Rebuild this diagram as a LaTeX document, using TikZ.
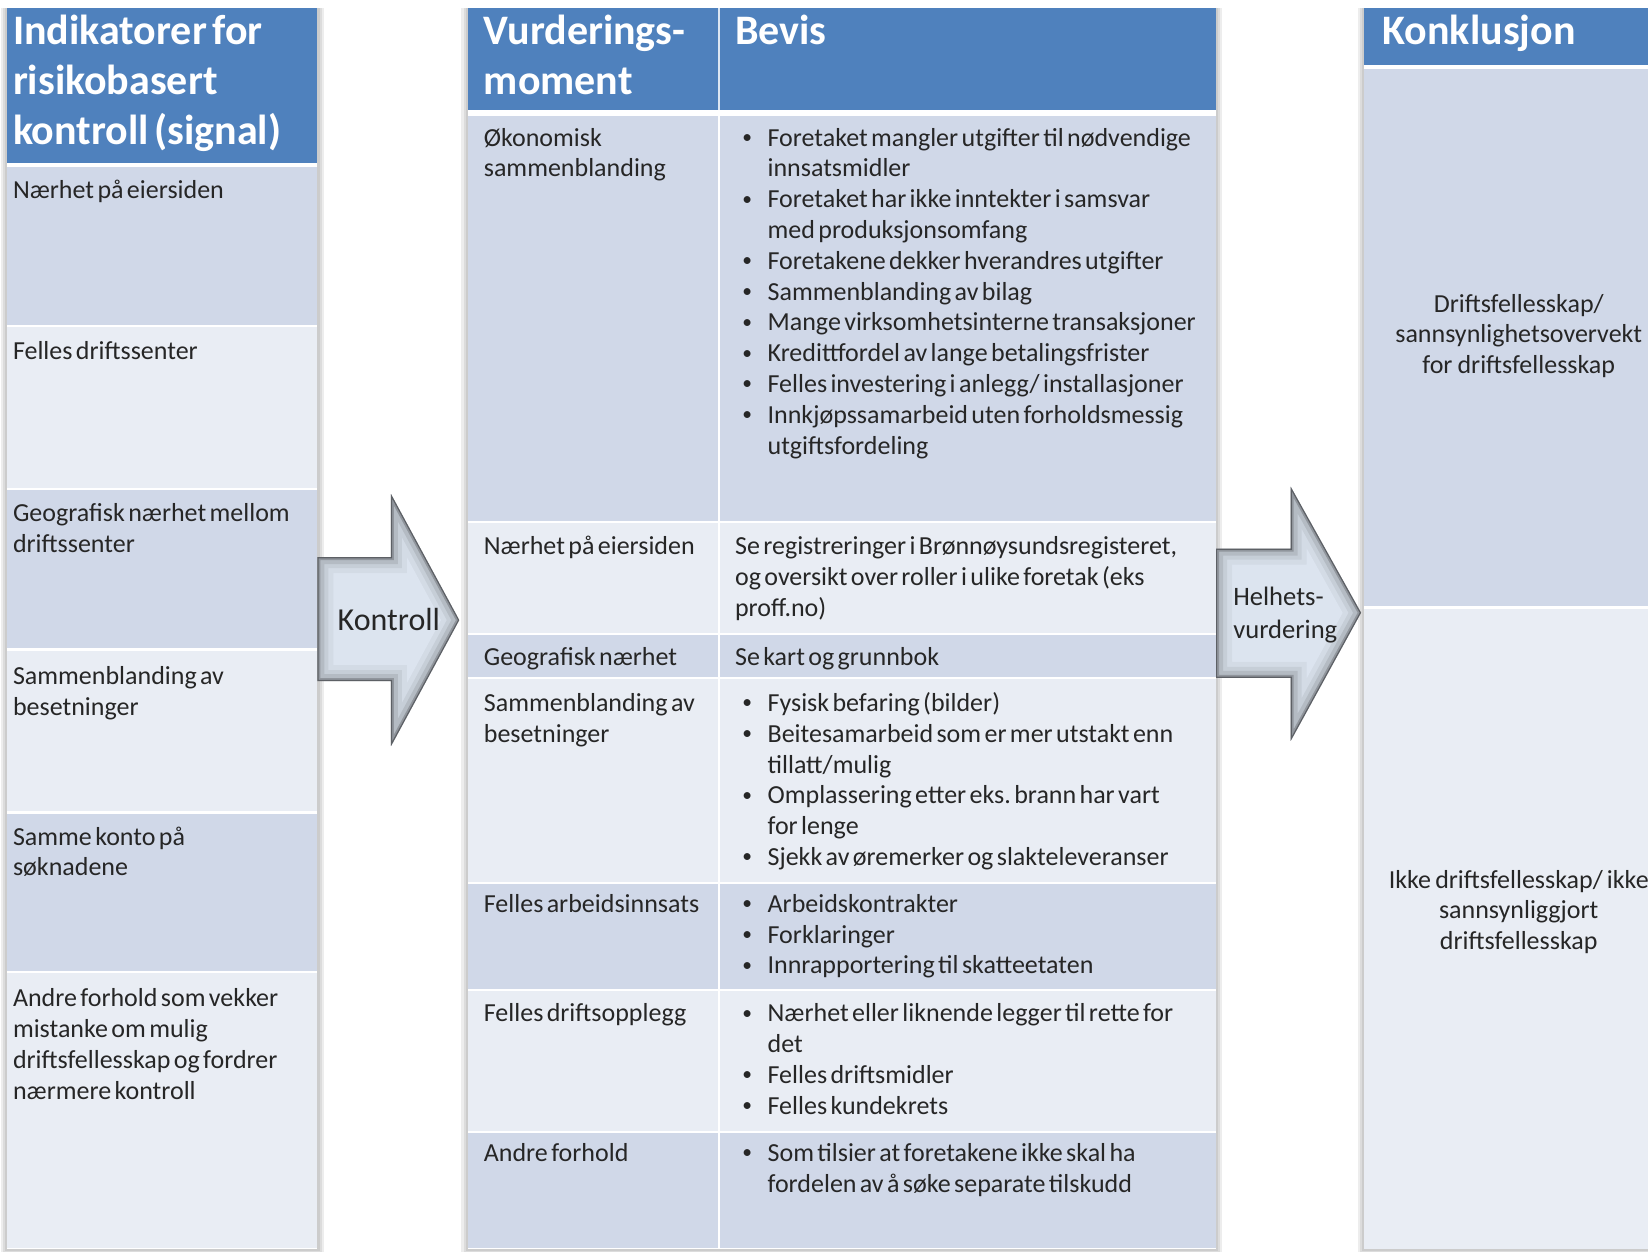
\documentclass[tikz,border=0pt]{standalone}
\usepackage{fontspec}
\setmainfont{Carlito}
\frenchspacing

\definecolor{headblue}{HTML}{4F81BD}
\definecolor{rowdark}{HTML}{D0D8E8}
\definecolor{rowlight}{HTML}{E9EDF4}
\definecolor{arrowfill}{HTML}{DCE4EF}
\definecolor{txtcol}{HTML}{262626}

\newcommand{\bul}{\makebox[12.6pt][l]{\raisebox{0.1em}{\scalebox{0.75}{\textbullet}}}}
\newcommand{\ind}{\hspace*{12.6pt}}
\newcommand{\tightsp}{\spaceskip=0.13em plus 0.05em minus 0.02em\relax}

\begin{document}
\begin{tikzpicture}[x=0.5255pt, y=-0.5255pt,
    cell/.style={anchor=base west, inner sep=0pt, text width=260pt, align=left,
      text=txtcol, font=\fontsize{13}{15.4}\selectfont, execute at begin node=\tightsp},
    head/.style={anchor=base west, inner sep=0pt, text width=200pt, align=left,
      text=white, font=\fontsize{21}{25}\selectfont\bfseries, execute at begin node=\tightsp},
    concl/.style={anchor=base, inner sep=0pt, text width=160pt, align=center,
      text=txtcol, font=\fontsize{13}{15.3}\selectfont, execute at begin node=\tightsp},
    halo/.style={black, opacity=0.07}]

\fill[white] (0,0) rectangle (1568,1191);
\useasboundingbox (0,0) rectangle (1568,1191);

% soft shadows behind the three columns
\foreach \d in {2,4,6} {
  \fill[halo] (7-\d,8) rectangle (302+\d,1188+\d);
  \fill[halo] (445-\d,8) rectangle (1157+\d,1188+\d);
  \fill[halo] (1298-\d,8) rectangle (1580,1188+\d);
}

% left column: signals
\fill[white] (7,8) rectangle (302,1188);
\fill[headblue] (7,8) rectangle (302,155);
\foreach \ya/\yb/\c in {158/310/rowdark, 310/465/rowlight, 465/618/rowdark,
    618/773/rowlight, 773/925/rowdark, 925/1188/rowlight}
  \fill[\c] (7,\ya+1) rectangle (302,\yb-1);

% middle table
\fill[white] (445,8) rectangle (1157,1188);
\fill[headblue] (445,8) rectangle (1157,105);
\draw[white!80!headblue, line width=1pt] (684,8) -- (684,105);
\foreach \ya/\yb/\c in {109/497/rowdark, 497/603/rowlight, 603/645/rowdark,
    645/840/rowlight, 840/942/rowdark, 942/1077/rowlight, 1077/1188/rowdark} {
  \fill[\c] (445,\ya+1) rectangle (683,\yb-1);
  \fill[\c] (685,\ya+1) rectangle (1157,\yb-1);
}

% right column: conclusion
\fill[white] (1298,8) rectangle (1568,1188);
\fill[headblue] (1298,8) rectangle (1568,62);
\fill[rowdark] (1298,66) rectangle (1568,577);
\fill[rowlight] (1298,579) rectangle (1568,1188);

% block arrows
\begin{scope}
  \clip (302,530) -- (372,530) -- (372,470) -- (437,590) -- (372,710) -- (372,648) -- (302,648) -- cycle;
  \fill[arrowfill] (302,470) rectangle (437,710);
  \foreach \w/\o in {16/0.04, 11/0.06, 7/0.09, 3/0.2, 1.2/0.35}
    \draw[black, opacity=\o, line width=\w] (302,530) -- (372,530) -- (372,470) -- (437,590) -- (372,710) -- (372,648) -- (302,648) -- cycle;
\end{scope}
\begin{scope}
  \clip (1157,522) -- (1228,522) -- (1228,463) -- (1295,583) -- (1228,705) -- (1228,645) -- (1157,645) -- cycle;
  \fill[arrowfill] (1157,463) rectangle (1295,705);
  \foreach \w/\o in {16/0.04, 11/0.06, 7/0.09, 3/0.2, 1.2/0.35}
    \draw[black, opacity=\o, line width=\w] (1157,522) -- (1228,522) -- (1228,463) -- (1295,583) -- (1228,705) -- (1228,645) -- (1157,645) -- cycle;
\end{scope}

% headers
\node[head] (hind) at (12,42) {Indikatorer for\\risikobasert\\kontroll (signal)};
\node[head] (hvur) at (460,42) {Vurderings-\\moment};
\node[head] (hbev) at (699,42) {Bevis};
\node[head] (hkon) at (1315,42) {Konklusjon};

% left column texts
\node[cell] (sig1) at (12,189) {Nærhet på eiersiden};
\node[cell] (sig2) at (12,342) {Felles driftssenter};
\node[cell] (sig3) at (12,496) {Geografisk nærhet mellom\\driftssenter};
\node[cell] (sig4) at (12,651) {Sammenblanding av\\besetninger};
\node[cell] (sig5) at (12,804) {Samme konto på\\søknadene};
\node[cell] (sig6) at (12,958) {Andre forhold som vekker\\mistanke om mulig\\driftsfellesskap og fordrer\\nærmere kontroll};

% middle table, first column
\node[cell] (mom1) at (460,139) {Økonomisk\\sammenblanding};
\node[cell] (mom2) at (460,528) {Nærhet på eiersiden};
\node[cell] (mom3) at (460,633) {Geografisk nærhet};
\node[cell] (mom4) at (460,677) {Sammenblanding av\\besetninger};
\node[cell] (mom5) at (460,868) {Felles arbeidsinnsats};
\node[cell] (mom6) at (460,972) {Felles driftsopplegg};
\node[cell] (mom7) at (460,1105) {Andre forhold};

% middle table, evidence
\node[cell] (bev1) at (706,139) {\bul Foretaket mangler utgifter til nødvendige\\ \ind innsatsmidler\\
  \bul Foretaket har ikke inntekter i samsvar\\ \ind med produksjonsomfang\\
  \bul Foretakene dekker hverandres utgifter\\
  \bul Sammenblanding av bilag\\
  \bul Mange virksomhetsinterne transaksjoner\\
  \bul Kredittfordel av lange betalingsfrister\\
  \bul Felles investering i anlegg/ installasjoner\\
  \bul Innkjøpssamarbeid uten forholdsmessig\\ \ind utgiftsfordeling};
\node[cell] (bev2) at (699,528) {Se registreringer i Brønnøysundsregisteret,\\og oversikt over roller i ulike foretak (eks\\proff.no)};
\node[cell] (bev3) at (699,633) {Se kart og grunnbok};
\node[cell] (bev4) at (706,677) {\bul Fysisk befaring (bilder)\\
  \bul Beitesamarbeid som er mer utstakt enn\\ \ind tillatt/mulig\\
  \bul Omplassering etter eks. brann har vart\\ \ind for lenge\\
  \bul Sjekk av øremerker og slakteleveranser};
\node[cell] (bev5) at (706,868) {\bul Arbeidskontrakter\\
  \bul Forklaringer\\
  \bul Innrapportering til skatteetaten};
\node[cell] (bev6) at (706,972) {\bul Nærhet eller liknende legger til rette for\\ \ind det\\
  \bul Felles driftsmidler\\
  \bul Felles kundekrets};
\node[cell] (bev7) at (706,1105) {\bul Som tilsier at foretakene ikke skal ha\\ \ind fordelen av å søke separate tilskudd};

% conclusions
\node[concl] (kon1) at (1445,297) {Driftsfellesskap/\\sannsynlighetsovervekt\\for driftsfellesskap};
\node[concl] (kon2) at (1445,845) {Ikke driftsfellesskap/ ikke\\sannsynliggjort\\driftsfellesskap};

% arrow labels
\node[inner sep=0pt, text=txtcol, font=\fontsize{16}{19}\selectfont] (kontroll) at (370,589) {Kontroll};
\node[cell, font=\fontsize{13.3}{16.3}\selectfont] (helhet) at (1173,576) {Helhets-\\vurdering};
\end{tikzpicture}
\end{document}
